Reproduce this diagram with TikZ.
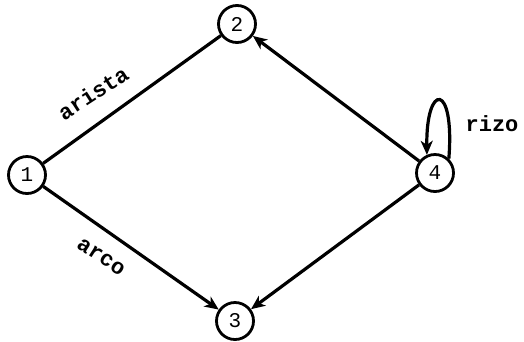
\documentclass[tikz,border=0pt]{standalone}
\usepackage{fontspec}
\setmonofont{Liberation Mono}
\usetikzlibrary{arrows.meta}
\begin{document}
\begin{tikzpicture}[x=1pt,y=-1pt,
  vert/.style={circle,draw,line width=2.8pt,minimum size=37pt,inner sep=0pt,font=\ttfamily\fontsize{21}{21}\selectfont},
  edge/.style={line width=3.2pt},
  arr/.style={edge,-{Stealth[length=14pt,width=12pt,inset=4pt]}},
  lab/.style={font=\ttfamily\bfseries\fontsize{22}{22}\selectfont,inner sep=0pt}]
\useasboundingbox (0,0) rectangle (524,341);
\node[vert] (n1) at (27,175) {1};
\node[vert] (n2) at (237,24) {2};
\node[vert] (n3) at (235,321) {3};
\node[vert] (n4) at (435,173) {4};
\draw[edge] (n1) -- (n2);
\draw[arr] (n1) -- (n3);
\draw[arr] (n4) -- (n2);
\draw[arr] (n4) -- (n3);
\draw[arr] (n4.46) .. controls (455,82) and (426,82) .. (n4.114);
\node[lab,rotate=33] (la) at (93,93) {arista};
\node[lab,rotate=-33] (lb) at (101,257) {arco};
\node[lab] (lc) at (492,124) {rizo};
\end{tikzpicture}
\end{document}
